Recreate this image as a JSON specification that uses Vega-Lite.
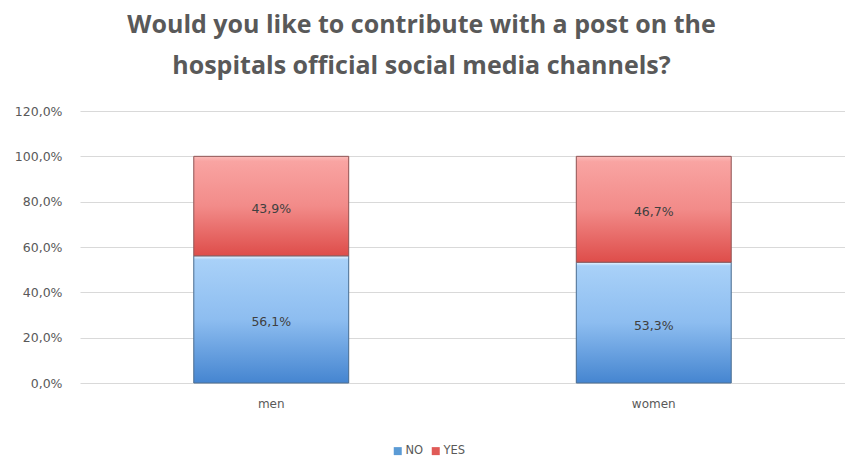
{
  "$schema": "https://vega.github.io/schema/vega-lite/v6.json",
  "width": 765,
  "height": 272,
  "autosize": {"type": "none"},
  "padding": {"left": 80, "top": 111, "right": 0, "bottom": 80},
  "background": "white",
  "title": {
    "text": ["Would you like to contribute with a post on the", "hospitals official social media channels?"],
    "font": "Open Sans",
    "fontSize": 25,
    "fontWeight": "bold",
    "color": "#595959",
    "anchor": "middle",
    "frame": "group",
    "dx": -41,
    "offset": 26,
    "lineHeight": 41
  },
  "config": {
    "view": {"stroke": null},
    "font": "DejaVu Sans"
  },
  "data": {
    "values": [
      {"gender": "men", "answer": "NO", "order": 1, "value": 0.561},
      {"gender": "men", "answer": "YES", "order": 2, "value": 0.439},
      {"gender": "women", "answer": "NO", "order": 1, "value": 0.533},
      {"gender": "women", "answer": "YES", "order": 2, "value": 0.467}
    ]
  },
  "transform": [
    {"stack": "value", "groupby": ["gender"], "sort": [{"field": "order"}], "as": ["v0", "v1"]},
    {"calculate": "(datum.v0 + datum.v1) / 2", "as": "mid"},
    {"calculate": "replace(format(datum.value, '.1%'), '.', ',')", "as": "label"}
  ],
  "encoding": {
    "x": {
      "field": "gender",
      "type": "nominal",
      "scale": {"paddingInner": 0.595, "paddingOuter": 0.2975},
      "axis": {
        "title": null,
        "labelAngle": 0,
        "labelColor": "#595959",
        "labelFont": "DejaVu Sans",
        "labelFontSize": 12,
        "labelPadding": 15,
        "domain": false,
        "ticks": false
      }
    }
  },
  "layer": [
    {
      "mark": {"type": "bar"},
      "encoding": {
        "y": {
          "field": "v1",
          "type": "quantitative",
          "scale": {"domain": [0, 1.2]},
          "axis": {
            "title": null,
            "values": [0, 0.2, 0.4, 0.6, 0.8, 1.0, 1.2],
            "labelExpr": "replace(format(datum.value, '.1%'), '.', ',')",
            "labelColor": "#595959",
            "labelFont": "DejaVu Sans",
            "labelFontSize": 12.5,
            "labelPadding": 18,
            "domain": false,
            "ticks": false,
            "gridColor": "#d9d9d9",
            "gridWidth": 1
          }
        },
        "y2": {"field": "v0"},
        "color": {
          "field": "answer",
          "type": "nominal",
          "scale": {"domain": ["NO", "YES"], "range": ["#5b9bd5", "#e05a57"]},
          "legend": {
            "title": null,
            "orient": "none",
            "direction": "horizontal",
            "legendX": 312,
            "legendY": 334,
            "symbolType": "square",
            "symbolSize": 64,
            "symbolStrokeWidth": 0,
            "labelColor": "#595959",
            "labelFont": "DejaVu Sans",
            "labelFontSize": 11.5,
            "labelOffset": 2,
            "columnPadding": 6
          }
        }
      }
    },
    {
      "transform": [{"filter": "datum.answer === 'NO'"}],
      "mark": {
        "type": "bar",
        "stroke": "#4f6f90",
        "strokeWidth": 1,
        "fill": {
          "gradient": "linear",
          "x1": 0, "y1": 0, "x2": 0, "y2": 1,
          "stops": [
            {"offset": 0, "color": "#eef6fe"},
            {"offset": 0.03, "color": "#a9d1f8"},
            {"offset": 0.5, "color": "#8dbdf0"},
            {"offset": 1, "color": "#4585d0"}
          ]
        }
      },
      "encoding": {
        "y": {"field": "v1", "type": "quantitative"},
        "y2": {"field": "v0"}
      }
    },
    {
      "transform": [{"filter": "datum.answer === 'YES'"}],
      "mark": {
        "type": "bar",
        "stroke": "#8f5a5a",
        "strokeWidth": 1,
        "fill": {
          "gradient": "linear",
          "x1": 0, "y1": 0, "x2": 0, "y2": 1,
          "stops": [
            {"offset": 0, "color": "#fbbcba"},
            {"offset": 0.05, "color": "#f9a4a2"},
            {"offset": 0.5, "color": "#f28b89"},
            {"offset": 1, "color": "#de4d4a"}
          ]
        }
      },
      "encoding": {
        "y": {"field": "v1", "type": "quantitative"},
        "y2": {"field": "v0"}
      }
    },
    {
      "mark": {"type": "text", "color": "#404040", "fontSize": 12.5, "font": "DejaVu Sans", "dy": 3},
      "encoding": {
        "y": {"field": "mid", "type": "quantitative"},
        "text": {"field": "label", "type": "nominal"}
      }
    }
  ]
}
